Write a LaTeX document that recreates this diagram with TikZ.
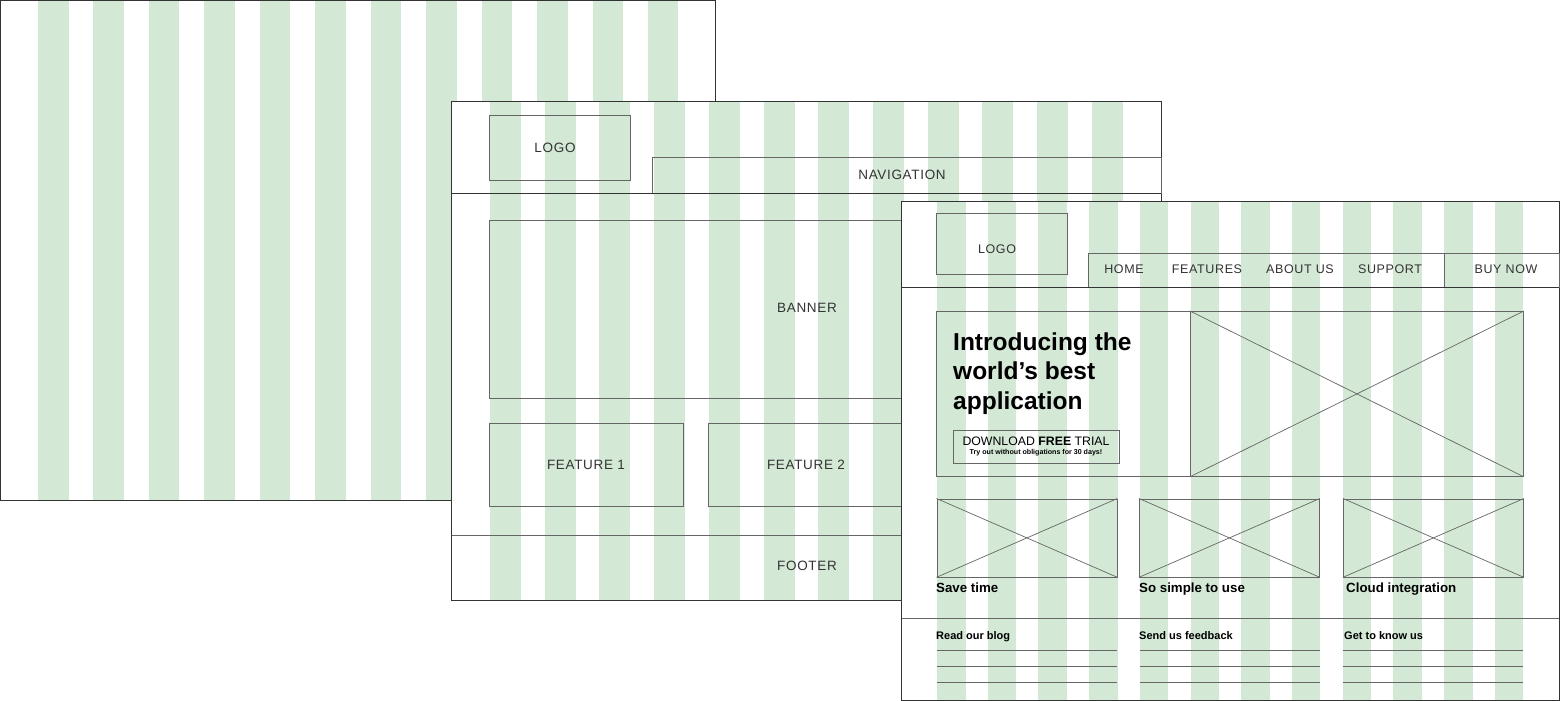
\documentclass[tikz,border=0pt]{standalone}
\usepackage{fontspec}
\setmainfont{Liberation Sans}
\newfontfamily\spaced[LetterSpace=5]{Liberation Sans}
\definecolor{stripe}{HTML}{D3E9D5}
\definecolor{frame}{HTML}{333333}
\definecolor{boxline}{HTML}{666666}
\definecolor{lbl}{HTML}{333333}
\begin{document}
\begin{tikzpicture}[x=1pt,y=-1pt,
  panel/.style={draw=frame,line width=1pt},
  wbox/.style={draw=boxline,line width=0.8pt,inner sep=0pt,anchor=north west,text=lbl},
  thin/.style={draw=boxline,line width=0.7pt},
  lblA/.style={text=lbl,font=\spaced\fontsize{13.5}{16}\selectfont},
  lblB/.style={text=lbl,font=\spaced\fontsize{12.5}{15}\selectfont},
  head/.style={inner sep=0pt,anchor=base west,font=\bfseries\fontsize{24.5}{29}\selectfont},
  feat/.style={inner sep=0pt,anchor=base west,font=\bfseries\fontsize{13.3}{16}\selectfont},
  foot/.style={inner sep=0pt,anchor=base west,font=\bfseries\fontsize{11}{13}\selectfont}]
\useasboundingbox (0,0) rectangle (1560,701);
% ---------- panel 1 ----------
\fill[white] (0.5,0.5) rectangle (715,500);
\foreach \i in {0,...,11}{\fill[stripe] ({38+\i*55.45},0.5) rectangle ({68.5+\i*55.45},500);}
\draw[panel] (0.5,0.5) rectangle (715,500);
% ---------- panel 2 ----------
\fill[white] (451.5,101) rectangle (1161,600);
\foreach \i in {0,...,11}{\fill[stripe] ({490+\i*54.7},101) rectangle ({521+\i*54.7},600);}
\draw[panel] (451.5,101) rectangle (1161,600);
\node[wbox,minimum width=141pt,minimum height=65pt] (logo2) at (489,115) {};
\node[lblA] (logo2t) at (555,147.5) {LOGO};
\node[wbox,minimum width=509pt,minimum height=36pt] (nav2) at (652,157) {};
\node[lblA] (nav2t) at (902,175) {NAVIGATION};
\coordinate (h2l) at (451.5,193);
\coordinate (h2r) at (1161,193);
\draw[panel] (h2l) -- (h2r);
\node[wbox,minimum width=633pt,minimum height=178pt] (banner2) at (489,220) {};
\node[lblA] (banner2t) at (807,308) {BANNER};
\node[wbox,minimum width=194pt,minimum height=83pt] (f1) at (489,423) {};
\node[lblA] (f1t) at (586,464.5) {FEATURE 1};
\node[wbox,minimum width=196pt,minimum height=83pt] (f2) at (708,423) {};
\node[lblA] (f2t) at (806,464.5) {FEATURE 2};
\coordinate (ft2l) at (451.5,535);
\coordinate (ft2r) at (1161,535);
\draw[thin] (ft2l) -- (ft2r);
\node[lblA] (footer2) at (807,566) {FOOTER};
% ---------- panel 3 ----------
\fill[white] (901.5,201) rectangle (1559,700);
\foreach \i in {0,...,11}{\fill[stripe] ({937+\i*50.7},201) rectangle ({965.5+\i*50.7},700);}
\draw[panel] (901.5,201) rectangle (1559,700);
\node[wbox,minimum width=131pt,minimum height=61pt] (logo3) at (936,213) {};
\node[lblB] (logo3t) at (997,249) {LOGO};
\node[wbox,minimum width=471pt,minimum height=34pt] (nav3) at (1087.5,253) {};
\coordinate (sepT) at (1444,253);
\coordinate (sepB) at (1444,287);
\draw[thin] (sepT) -- (sepB);
\node[lblB] (home) at (1124,269.5) {HOME};
\node[lblB] (features) at (1207,269.5) {FEATURES};
\node[lblB] (about) at (1300,269.5) {ABOUT US};
\node[lblB] (support) at (1390,269.5) {SUPPORT};
\node[lblB] (buy) at (1506,269.5) {BUY NOW};
\coordinate (h3l) at (901.5,287);
\coordinate (h3r) at (1559,287);
\draw[panel] (h3l) -- (h3r);
% hero
\node[wbox,minimum width=587pt,minimum height=165pt] (hero) at (936,311) {};
\node[wbox,minimum width=333pt,minimum height=165pt] (heroimg) at (1190,311) {};
\draw[thin] (heroimg.north west) -- (heroimg.south east);
\draw[thin] (heroimg.south west) -- (heroimg.north east);
\node[head] (t1) at (953,350) {Introducing the};
\node[head] (t2) at (953,379.5) {world’s best};
\node[head] (t3) at (953,409) {application};
\node[wbox,minimum width=166pt,minimum height=33pt] (btn) at (953,429.5) {};
\node[inner sep=0pt,anchor=base,font=\fontsize{12.3}{14}\selectfont] (btnt) at (1036,445) {DOWNLOAD \textbf{FREE} TRIAL};
\node[inner sep=0pt,anchor=base,font=\bfseries\fontsize{7.1}{8}\selectfont] (btns) at (1036,454) {Try out without obligations for 30 days!};
% feature images
\node[wbox,minimum width=180pt,minimum height=78pt] (im1) at (936.5,498.5) {};
\node[wbox,minimum width=180pt,minimum height=78pt] (im2) at (1139,498.5) {};
\node[wbox,minimum width=180pt,minimum height=78pt] (im3) at (1343,498.5) {};
\foreach \n in {im1,im2,im3}{
  \draw[thin] (\n.north west) -- (\n.south east);
  \draw[thin] (\n.south west) -- (\n.north east);}
\node[feat] (s1) at (936,592) {Save time};
\node[feat] (s2) at (1139,592) {So simple to use};
\node[feat] (s3) at (1346,592) {Cloud integration};
\coordinate (ft3l) at (901.5,618);
\coordinate (ft3r) at (1559,618);
\draw[thin] (ft3l) -- (ft3r);
\node[foot] (b1) at (936,639.5) {Read our blog};
\node[foot] (b2) at (1139,639.5) {Send us feedback};
\node[foot] (b3) at (1344,639.5) {Get to know us};
\foreach \x in {936.5,1139.5,1343}{
  \foreach \y in {650.5,666,682}{
    \coordinate (la) at (\x,\y);
    \coordinate (lb) at (\x+180,\y);
    \draw[thin] (la) -- (lb);}}
\end{tikzpicture}
\end{document}
